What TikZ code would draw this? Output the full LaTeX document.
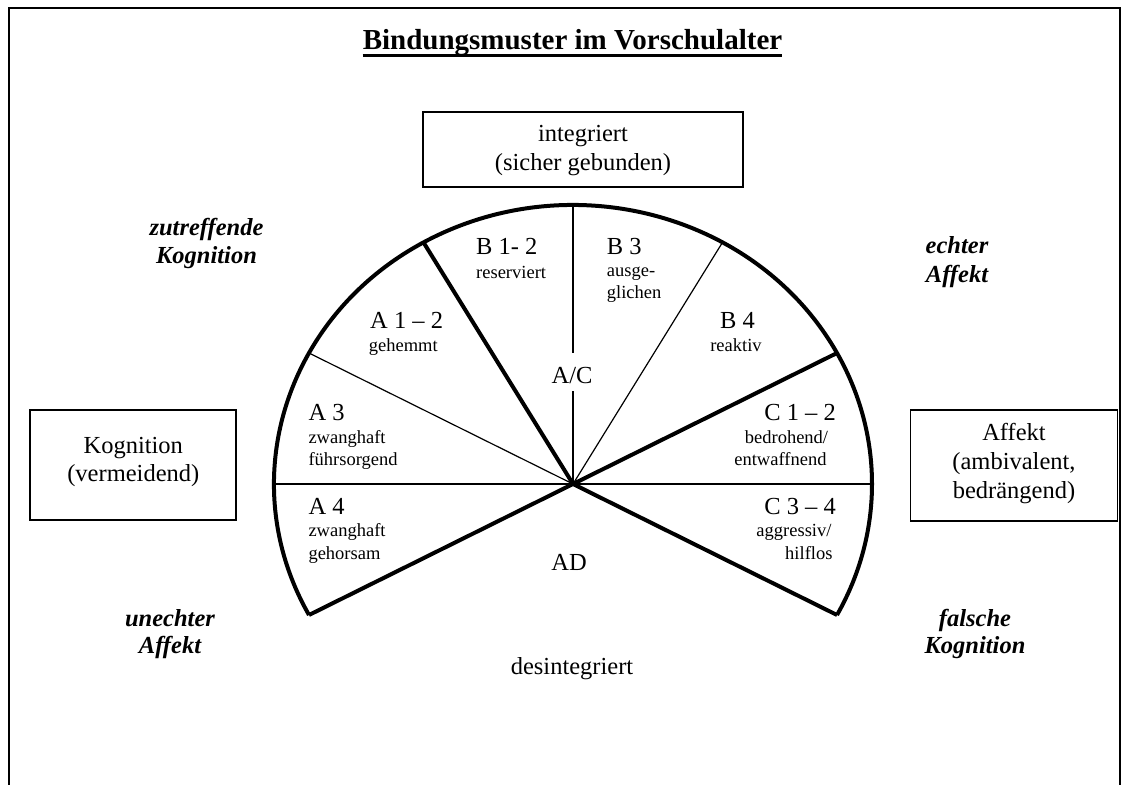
\documentclass[tikz,border=0pt]{standalone}
\usepackage{fontspec}
\setmainfont{Liberation Serif}
\newcommand\mainsz{\fontsize{24.5}{28.3}\selectfont}
\newcommand\smallsz{\fontsize{18.5}{22.5}\selectfont}
\newcommand\titlesz{\fontsize{29}{33}\selectfont\bfseries}
\tikzset{
  lbl/.style={inner sep=0pt, font=\mainsz},
  sm/.style={inner sep=0pt, font=\smallsz},
  bi/.style={inner sep=0pt, font=\mainsz\bfseries\itshape},
  box/.style={draw, line width=1.5pt, inner sep=0pt},
  thickline/.style={line width=4pt},
  thinline/.style={line width=1.2pt},
}
\begin{document}
\begin{tikzpicture}[x=1pt, y=-1pt]
\useasboundingbox (0,0) rectangle (1129,784);
\draw[line width=2.5pt] (9,8) rectangle (1120,800);

% title
\node[inner sep=0pt, font=\titlesz, anchor=base] (title) at (572.5,50) {Bindungsmuster im Vorschulalter};
\draw[line width=2.4pt] ([yshift=-5.5pt]title.base west) -- ([yshift=-5.5pt]title.base east);

% boxes
\node[box, minimum width=320pt, minimum height=75pt] (intbox) at (583,149.5) {};
\node[lbl, anchor=base] (int1) at (583,141.7) {integriert};
\node[lbl, anchor=base] (int2) at (583,170) {(sicher gebunden)};

\node[box, minimum width=206pt, minimum height=110pt] (kogbox) at (133,465) {};
\node[lbl, anchor=base] (kog1) at (133.3,453.3) {Kognition};
\node[lbl, anchor=base] (kog2) at (133.3,481.7) {(vermeidend)};

\node[box, minimum width=206.6pt, minimum height=111pt] (affbox) at (1014,465.5) {};
\node[lbl, anchor=base] (aff1) at (1014,440) {Affekt};
\node[lbl, anchor=base] (aff2) at (1014,469) {(ambivalent,};
\node[lbl, anchor=base] (aff3) at (1014,498) {bedrängend)};

% fan geometry
\coordinate (C) at (573,484);
\path (C) ++(208:299pt and 279pt) coordinate (P208);
\path (C) ++(-28:299pt and 279pt) coordinate (Pm28);
\path (C) ++(28:299pt and 279pt) coordinate (P28);
\path (C) ++(152:299pt and 279pt) coordinate (P152);
\path (C) ++(120:299pt and 279pt) coordinate (P120);
\path (C) ++(60:299pt and 279pt) coordinate (P60);
\path (C) ++(90:299pt and 279pt) coordinate (P90);
\path (C) ++(180:299pt and 279pt) coordinate (P180);
\path (C) ++(0:299pt and 279pt) coordinate (P0);
\coordinate (gapT) at (573,352.7);
\coordinate (gapB) at (573,390.7);

\draw[thinline] (P180) -- (P0);
\draw[thinline] (C) -- (P152);
\draw[thinline] (C) -- (P60);
\draw[thinline] (C) -- (gapB);
\draw[thinline] (gapT) -- (P90);
\draw[thickline] (C) -- (P208);
\draw[thickline] (C) -- (Pm28);
\draw[thickline] (C) -- (P120);
\draw[thickline] (C) -- (P28);
\draw[thickline] (P208) arc[start angle=208, end angle=-28, x radius=299pt, y radius=279pt];

% sector labels
\node[lbl, anchor=base west] (b12) at (476,254) {B 1- 2};
\node[sm, anchor=base west] (b12s) at (476,278.7) {reserviert};
\node[lbl, anchor=base west] (b3) at (606.7,254) {B 3};
\node[sm, anchor=base west] (b3s1) at (606.7,276.7) {ausge-};
\node[sm, anchor=base west] (b3s2) at (606.7,298.3) {glichen};
\node[lbl, anchor=base west] (a12) at (370,328.3) {A 1 – 2};
\node[sm, anchor=base west] (a12s) at (368.7,351.7) {gehemmt};
\node[lbl, anchor=base] (b4) at (737.5,328.3) {B 4};
\node[sm, anchor=base] (b4s) at (736,351.7) {reaktiv};
\node[lbl, anchor=base] (ac) at (572,383.3) {A/C};
\node[lbl, anchor=base west] (a3) at (308.3,420.7) {A 3};
\node[sm, anchor=base west] (a3s1) at (308.3,443.3) {zwanghaft};
\node[sm, anchor=base west] (a3s2) at (308.3,465.7) {führsorgend};
\node[lbl, anchor=base east] (c12) at (836,420.7) {C 1 – 2};
\node[sm, anchor=base east] (c12s1) at (828.3,443.3) {bedrohend/};
\node[sm, anchor=base east] (c12s2) at (826.7,465.7) {entwaffnend};
\node[lbl, anchor=base west] (a4) at (308.3,514) {A 4};
\node[sm, anchor=base west] (a4s1) at (308.3,536.7) {zwanghaft};
\node[sm, anchor=base west] (a4s2) at (308.3,559) {gehorsam};
\node[lbl, anchor=base east] (c34) at (836,514) {C 3 – 4};
\node[sm, anchor=base east] (c34s1) at (831.7,536.7) {aggressiv/};
\node[sm, anchor=base east] (c34s2) at (832.7,559) {hilflos};
\node[lbl, anchor=base] (ad) at (569,570) {AD};
\node[lbl, anchor=base] (des) at (572,674) {desintegriert};

% corner labels
\node[bi, anchor=base] (zk1) at (206.5,235) {zutreffende};
\node[bi, anchor=base] (zk2) at (206.5,263) {Kognition};
\node[bi, anchor=base] (ea1) at (957,253) {echter};
\node[bi, anchor=base] (ea2) at (957,282) {Affekt};
\node[bi, anchor=base] (ua1) at (170,626) {unechter};
\node[bi, anchor=base] (ua2) at (170,653) {Affekt};
\node[bi, anchor=base] (fk1) at (975,626.5) {falsche};
\node[bi, anchor=base] (fk2) at (975,653) {Kognition};
\end{tikzpicture}
\end{document}
